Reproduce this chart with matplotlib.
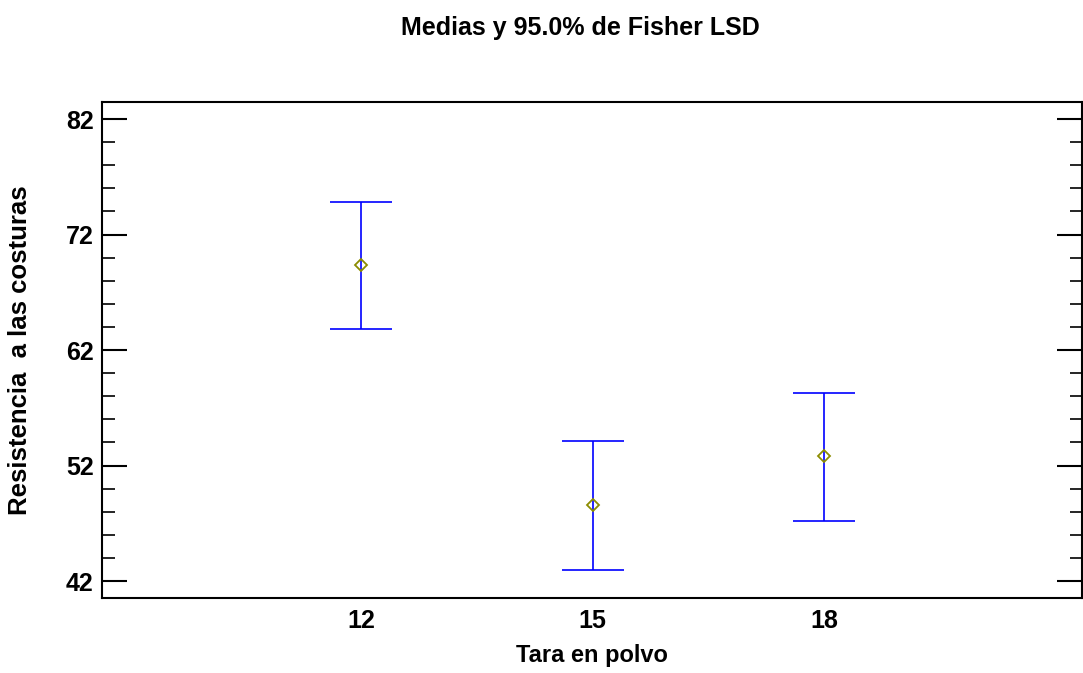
import matplotlib as mpl
import matplotlib.pyplot as plt
from matplotlib.ticker import MultipleLocator

mpl.rcParams['font.family'] = ['Liberation Sans', 'DejaVu Sans']
mpl.rcParams['font.weight'] = 'bold'

# niveles del factor y medias con intervalos LSD al 95%
niveles = [12, 15, 18]
medias = [69.36, 48.58, 52.82]
limite_inf = [63.82, 42.95, 47.20]
limite_sup = [74.81, 54.12, 58.28]

err_inf = [m - l for m, l in zip(medias, limite_inf)]
err_sup = [u - m for m, u in zip(medias, limite_sup)]

fig = plt.figure(figsize=(10.83, 6.73), dpi=100)
ax = fig.add_axes([0.0942, 0.1114, 0.9048, 0.737])

ax.errorbar(niveles, medias, yerr=[err_inf, err_sup], fmt='none',
            ecolor='#0000ff', elinewidth=1.2, capsize=22, capthick=1.2)
ax.plot(niveles, medias, 'D', markersize=6.5, markerfacecolor='none',
        markeredgecolor='#8c8c00', markeredgewidth=1.3)

ax.set_xlim(8.64, 21.34)
ax.set_ylim(40.53, 83.47)
ax.set_xticks(niveles)
ax.set_xticklabels([str(n) for n in niveles])
ax.yaxis.set_minor_locator(MultipleLocator(2))
ax.set_yticks([42, 52, 62, 72, 82])

ax.tick_params(axis='x', length=0, labelsize=18, pad=8)
ax.tick_params(axis='y', which='major', direction='in', length=18, width=1.5,
               labelsize=18, left=True, right=True, pad=6)
ax.tick_params(axis='y', which='minor', direction='in', length=9, width=1.2,
               left=True, right=True)

for s in ax.spines.values():
    s.set_linewidth(1.5)

ax.set_xlabel('Tara en polvo', fontsize=17, fontweight='bold')
ax.set_ylabel('Resistencia  a las costuras', fontsize=18.5, fontweight='bold')
ax.xaxis.set_label_coords(0.5, -0.093)
ax.yaxis.set_label_coords(-0.071, 0.5)
fig.text(0.5355, 0.958, 'Medias y 95.0% de Fisher LSD', ha='center', va='center',
         fontsize=18, fontweight='bold')

plt.savefig('out.png', dpi=100)
